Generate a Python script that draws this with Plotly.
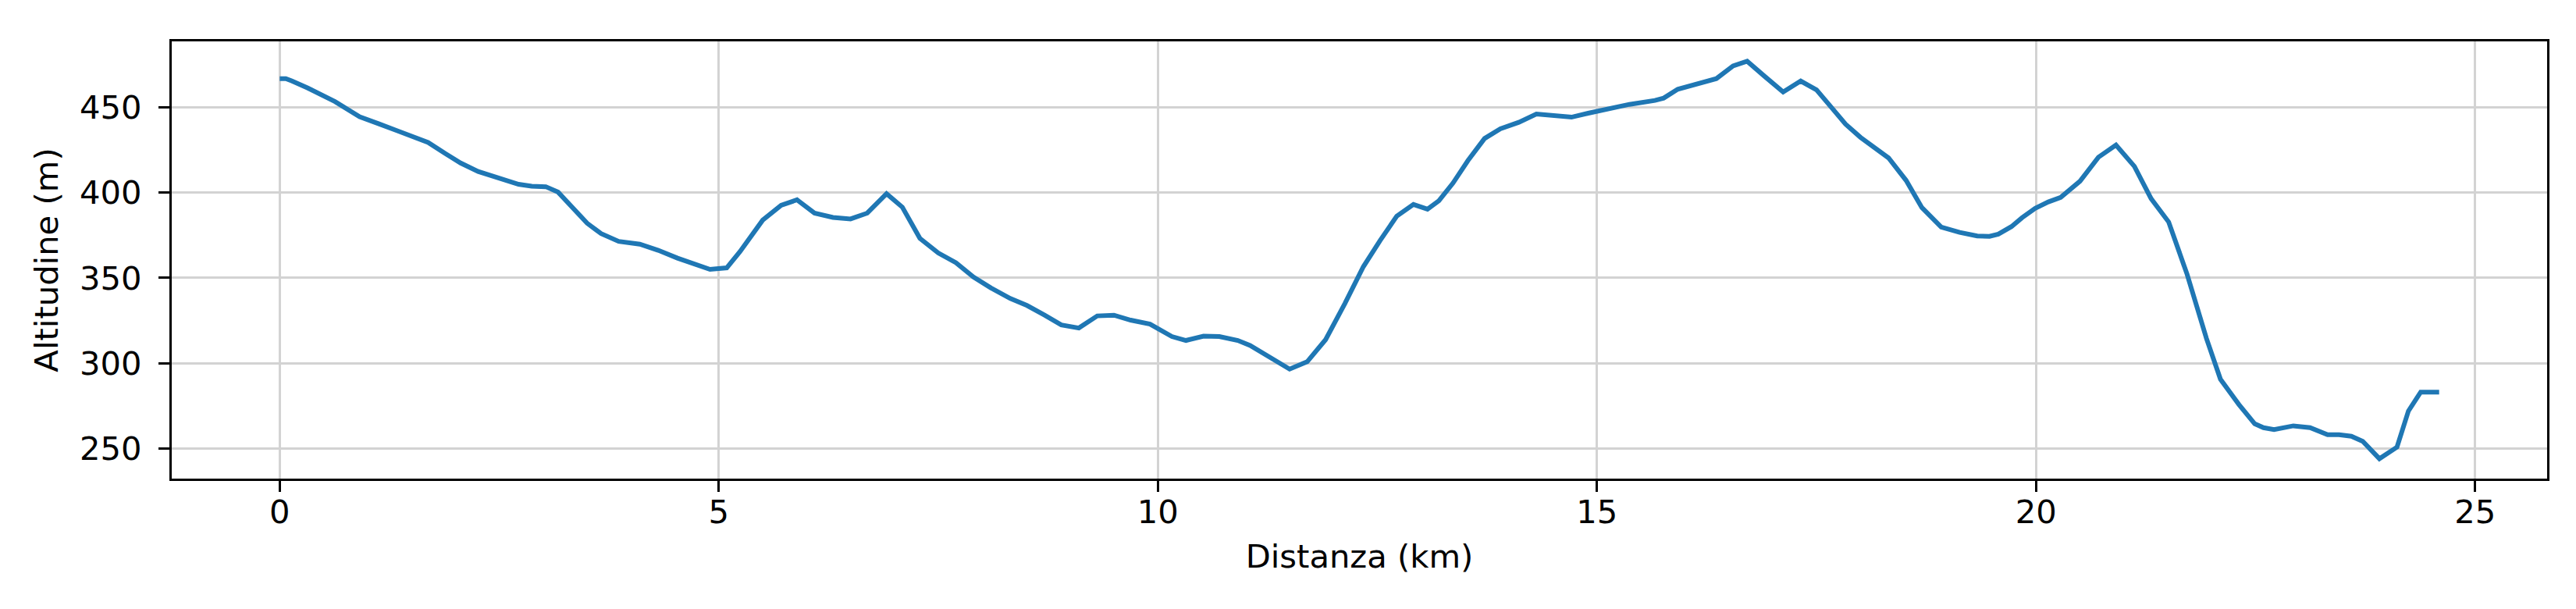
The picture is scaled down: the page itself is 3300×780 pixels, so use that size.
import plotly.graph_objects as go

# Elevation profile
distanza_km = [
    0.00, 0.07, 0.14, 0.32, 0.63, 0.91, 1.13, 1.69, 1.88, 2.06, 2.26, 2.50,
    2.72, 2.87, 3.03, 3.17, 3.37, 3.50, 3.66, 3.86, 4.10, 4.31, 4.53, 4.75,
    4.90, 5.09, 5.24, 5.50, 5.71, 5.89, 6.09, 6.30, 6.50, 6.69, 6.91, 7.09,
    7.29, 7.50, 7.70, 7.90, 8.10, 8.32, 8.51, 8.71, 8.90, 9.10, 9.31, 9.50,
    9.69, 9.91, 10.01, 10.16, 10.32, 10.52, 10.70, 10.91, 11.05, 11.28, 11.50,
    11.70, 11.91, 12.13, 12.34, 12.53, 12.72, 12.91, 13.07, 13.20, 13.36,
    13.53, 13.72, 13.90, 14.11, 14.31, 14.50, 14.71, 14.90, 15.06, 15.21,
    15.37, 15.66, 15.76, 15.92, 16.09, 16.24, 16.36, 16.55, 16.71, 16.91,
    17.12, 17.32, 17.50, 17.67, 17.83, 18.00, 18.17, 18.32, 18.52, 18.70,
    18.92, 19.13, 19.33, 19.47, 19.57, 19.72, 19.84, 19.99, 20.14, 20.28,
    20.50, 20.71, 20.91, 21.12, 21.31, 21.51, 21.72, 21.94, 22.10, 22.31,
    22.49, 22.59, 22.71, 22.93, 23.12, 23.32, 23.45, 23.59, 23.72, 23.91,
    24.11, 24.24, 24.38, 24.59,
]
altitudine_m = [
    466.9, 466.9, 465.5, 461.4, 453.4, 444.5, 440.4, 429.5, 423.1, 417.4,
    412.4, 408.3, 404.9, 403.8, 403.5, 400.3, 389.6, 382.1, 376.0, 371.4,
    369.8, 366.2, 361.6, 357.5, 355.0, 355.9, 365.3, 383.9, 392.6, 395.8,
    388.0, 385.5, 384.6, 388.0, 399.4, 391.5, 373.2, 364.6, 358.9, 350.5,
    344.1, 337.9, 333.8, 328.1, 322.4, 320.6, 327.7, 328.1, 325.2, 322.9,
    320.2, 315.6, 313.3, 315.8, 315.6, 313.3, 310.4, 303.1, 296.5, 300.8,
    313.8, 335.0, 356.6, 371.9, 386.2, 393.1, 390.3, 395.3, 405.6, 418.8,
    431.8, 437.5, 441.3, 446.1, 445.0, 444.3, 446.6, 448.6, 450.5, 451.8,
    454.1, 455.5, 460.7, 463.0, 464.6, 466.9, 474.4, 477.1, 468.2, 459.1,
    465.5, 460.3, 450.0, 440.2, 432.5, 426.1, 420.4, 407.2, 391.2, 379.8,
    376.7, 374.6, 374.4, 375.7, 380.1, 385.3, 390.8, 394.6, 397.2, 406.7,
    420.8, 427.9, 415.4, 396.5, 382.8, 352.1, 314.5, 290.5, 275.7, 264.4,
    262.1, 261.0, 263.2, 262.1, 258.0, 258.0, 257.1, 254.1, 243.9, 250.7,
    271.9, 283.0, 283.0,
]
x_ticks = [0, 5, 10, 15, 20, 25]
y_ticks = [250, 300, 350, 400, 450]

FONT = "DejaVu Sans"
TICK_FONT = dict(family=FONT, size=41.7, color="black")

fig = go.Figure()
fig.add_trace(go.Scatter(
    x=distanza_km, y=altitudine_m,
    mode="lines",
    line=dict(color="#1f77b4", width=6),
    showlegend=False,
))

# matplotlib-like autoscale: 5% margins
xmin, xmax = min(distanza_km), max(distanza_km)
ymin, ymax = min(altitudine_m), max(altitudine_m)
xpad = 0.05 * (xmax - xmin)
ypad = 0.05 * (ymax - ymin)

fig.update_layout(
    width=3300,
    height=780,
    margin=dict(l=212, r=45, t=45, b=175),
    plot_bgcolor="white",
    paper_bgcolor="white",
    font=dict(family=FONT, size=41.7, color="black"),
)
fig.update_xaxes(
    range=[xmin - xpad, xmax + xpad],
    tickvals=x_ticks,
    ticks="outside", ticklen=14, tickwidth=3.3, tickcolor="black",
    tickfont=TICK_FONT, ticklabelstandoff=-10,
    showline=True, linecolor="black", linewidth=3.3, mirror=True,
    showgrid=True, gridcolor="#d3d3d3", gridwidth=2.7,
    zeroline=False,
    title=dict(text="Distanza (km)", font=dict(family=FONT, size=41.7), standoff=19),
)
fig.update_yaxes(
    range=[ymin - ypad, ymax + ypad],
    tickvals=y_ticks,
    ticks="outside", ticklen=14, tickwidth=3.3, tickcolor="black",
    tickfont=TICK_FONT, ticklabelstandoff=13,
    showline=True, linecolor="black", linewidth=3.3, mirror=True,
    showgrid=True, gridcolor="#d3d3d3", gridwidth=2.7,
    zeroline=False,
    title=dict(text="Altitudine (m)", font=dict(family=FONT, size=41.7), standoff=15),
)

fig.write_html("out.html")
